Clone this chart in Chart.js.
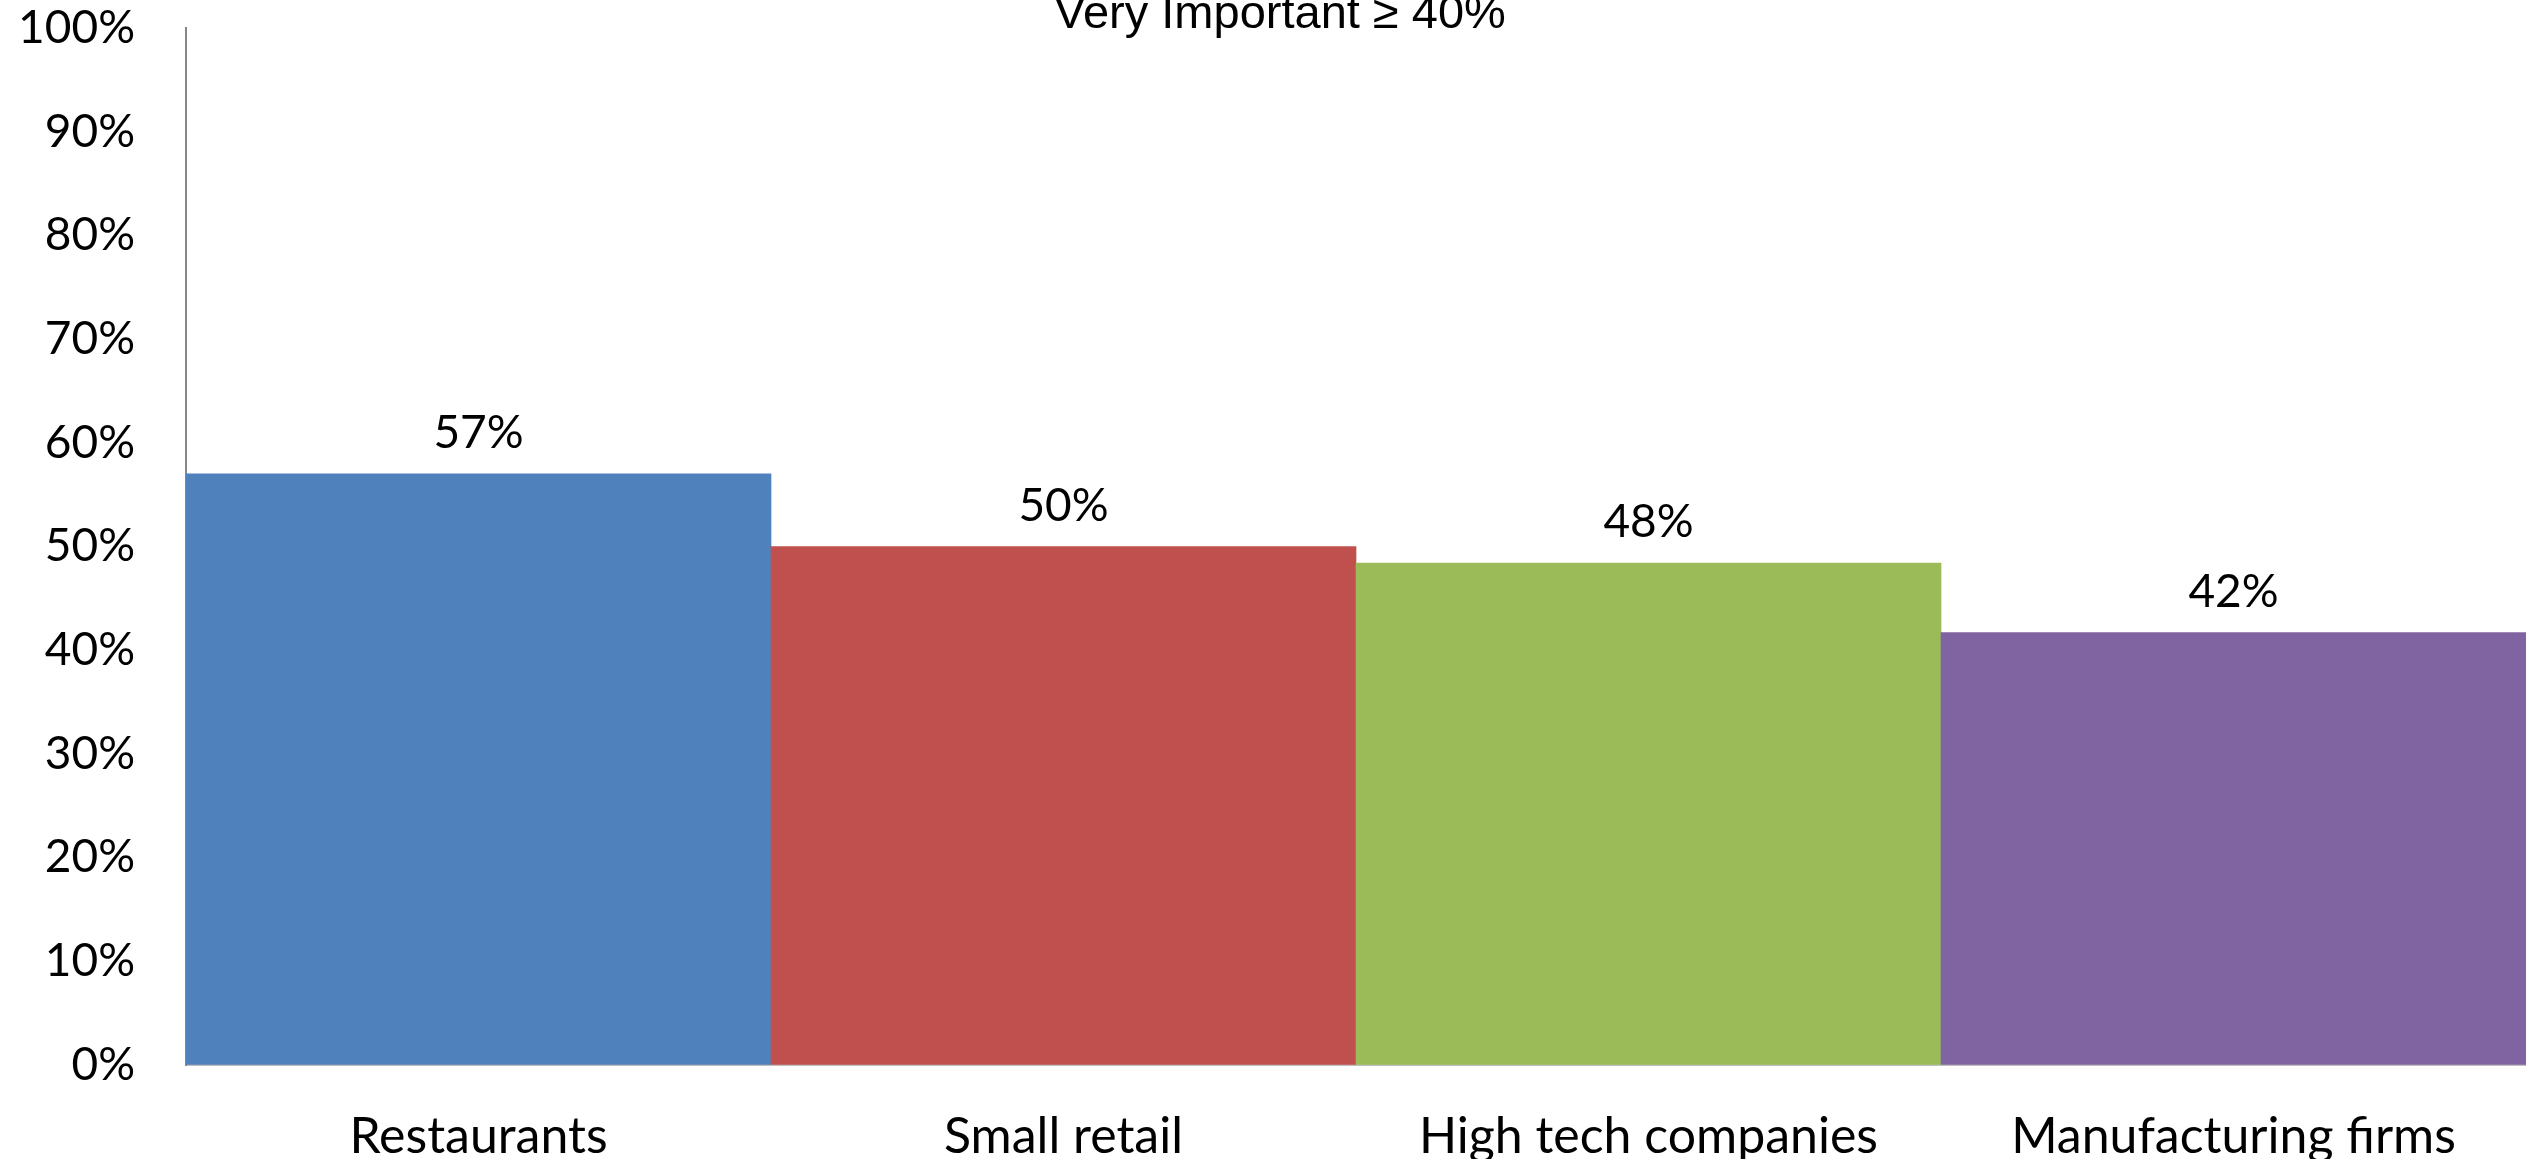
<!DOCTYPE html>
<html>
<head>
<meta charset="utf-8">
<title>Very Important ≥ 40%</title>
<script src="https://cdn.jsdelivr.net/npm/chart.js"></script>
<style>
  html, body { margin: 0; padding: 0; background: #fff; }
  #wrap { width: 2526px; height: 1159px; }
</style>
</head>
<body>
<div id="wrap"><canvas id="barChart" width="2526" height="1159"></canvas></div>
<script>
// chart values
const categories = ['Restaurants', 'Small retail', 'High tech companies', 'Manufacturing firms'];
const shares = [57, 50, 48.4, 41.7];
const shareLabels = ['57%', '50%', '48%', '42%'];
const barColors = ['#4F81BD', '#C0504D', '#9BBB59', '#8064A2'];
const chartTitle = 'Very Important \u2265 40%';

const labelFont = '46px Lato';

// value labels above each bar
const barValueLabels = {
  id: 'barValueLabels',
  afterDatasetsDraw(chart) {
    const ctx = chart.ctx;
    const meta = chart.getDatasetMeta(0);
    ctx.save();
    ctx.font = labelFont;
    ctx.fillStyle = '#000';
    ctx.textAlign = 'center';
    ctx.textBaseline = 'alphabetic';
    meta.data.forEach((bar, i) => {
      ctx.fillText(shareLabels[i], bar.x, bar.y - 26);
    });
    ctx.restore();
  }
};

// title sits partly off the top edge in the original
const topTitle = {
  id: 'topTitle',
  afterDraw(chart) {
    const ctx = chart.ctx;
    ctx.save();
    ctx.font = '47px "Liberation Sans", Arial, sans-serif';
    ctx.fillStyle = '#000';
    ctx.textAlign = 'center';
    ctx.textBaseline = 'alphabetic';
    ctx.fillText(chartTitle, 1280, 28);
    ctx.restore();
  }
};

document.addEventListener('DOMContentLoaded', () => {
  const ctx = document.getElementById('barChart').getContext('2d');

  new Chart(ctx, {
    type: 'bar',
    data: {
      labels: categories,
      datasets: [{
        data: shares,
        backgroundColor: barColors,
        borderWidth: 0,
        barPercentage: 1,
        categoryPercentage: 1
      }]
    },
    options: {
      responsive: false,
      animation: false,
      layout: { padding: { top: 28, right: 0, left: 0, bottom: 0 } },
      plugins: {
        legend: { display: false },
        title: { display: false },
        tooltip: { enabled: false }
      },
      scales: {
        x: {
          grid: { display: false, drawTicks: false },
          border: { display: true, color: '#BFBFBF', width: 2 },
          ticks: { color: '#000', font: { family: 'Lato', size: 50 }, padding: 42, maxRotation: 0 },
          afterFit(scale) { scale.height = 94; }
        },
        y: {
          min: 0,
          max: 100,
          // invisible tick marks push the labels away from the axis
          // (ticks.padding would also add space above the plot)
          grid: {
            display: true,
            drawOnChartArea: false,
            drawTicks: true,
            tickLength: 51,
            color: 'rgba(0,0,0,0)'
          },
          border: { display: true, color: '#868686', width: 2 },
          ticks: {
            stepSize: 10,
            color: '#000',
            font: { family: 'Lato', size: 46 },
            padding: 0,
            callback: v => v + '%'
          },
          afterFit(scale) { scale.width = 186; }
        }
      }
    },
    plugins: [barValueLabels, topTitle]
  });
});
</script>
</body>
</html>
